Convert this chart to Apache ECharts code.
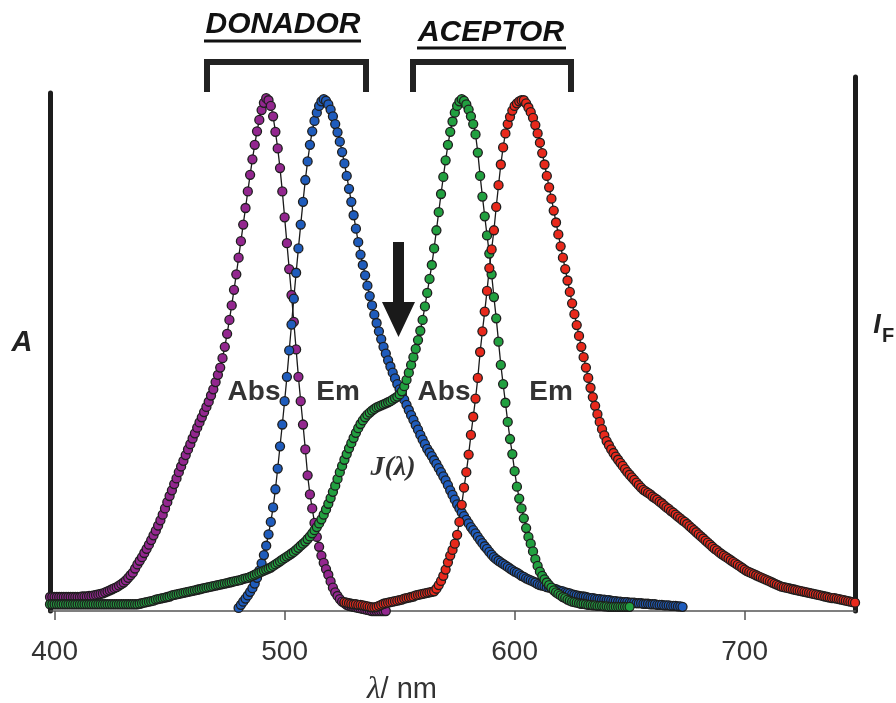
<!DOCTYPE html>
<html>
<head>
<meta charset="utf-8">
<script src="https://cdn.jsdelivr.net/npm/echarts@6.0.0/dist/echarts.min.js"></script>
<style>
  html, body { margin: 0; padding: 0; background: #fff; }
  #chart { width: 896px; height: 703px; }
</style>
</head>
<body>
<div id="chart"></div>
<script>
// 波长刻度
const xTicks = [400, 500, 600, 700]

// 供体吸收 (1 nm 步长, 从 398 nm 开始)
const absDonorStart = 398
const absDonor = [
  .027, .027, .027, .027, .027, .027, .027, .027, .027, .027,
  .027, .027, .027, .027, .028, .028, .028, .029, .029, .030,
  .031, .032, .033, .034, .036, .038, .040, .042, .044, .046,
  .049, .052, .055, .059, .064, .069, .074, .082, .090, .097,
  .104, .112, .120, .128, .137, .146, .155, .165, .175, .186,
  .198, .210, .222, .233, .245, .256, .268, .279, .290, .301,
  .312, .322, .333, .343, .354, .364, .374, .384, .394, .404,
  .416, .428, .442, .456, .470, .488, .510, .535, .562, .590,
  .620, .650, .682, .714, .746, .778, .810, .842, .872, .900,
  .926, .948, .967, .981, .990, .986, .975, .955, .925, .893,
  .855, .810, .760, .710, .660, .610, .558, .505, .452, .405,
  .360, .312, .262, .225, .198, .170, .143, .124, .107, .093,
  .081, .070, .057, .045, .036, .029, .023, .018, .015, .012,
  .010, .009, .008, .007, .006, .005, .004, .003, .002, .001,
  0, 0, 0, 0, 0, 0, 0
]

// 供体发射 (从 480 nm 开始)
const emDonorStart = 480
const emDonor = [
  .006, .012, .018, .024, .030, .037, .044, .053, .064, .078,
  .092, .108, .126, .148, .172, .200, .235, .275, .318, .360,
  .405, .452, .503, .553, .603, .653, .700, .746, .790, .832,
  .868, .900, .926, .946, .962, .975, .984, .988, .985, .978,
  .968, .955, .940, .924, .906, .886, .864, .840, .815, .790,
  .764, .738, .712, .688, .668, .648, .628, .608, .590, .572,
  .556, .540, .525, .510, .497, .484, .472, .460, .449, .438,
  .428, .418, .408, .398, .388, .378, .369, .359, .350, .340,
  .331, .322, .313, .306, .299, .291, .284, .276, .268, .260,
  .252, .243, .233, .224, .215, .206, .198, .190, .183, .176,
  .169, .162, .156, .150, .143, .137, .131, .125, .120, .114,
  .109, .104, .100, .097, .094, .091, .088, .085, .082, .079,
  .076, .074, .071, .068, .066, .063, .061, .059, .057, .055,
  .052, .050, .049, .048, .046, .045, .044, .043, .042, .040,
  .039, .038, .036, .035, .034, .032, .031, .030, .029, .028,
  .028, .027, .026, .025, .025, .024, .023, .023, .022, .022,
  .021, .021, .020, .019, .019, .018, .018, .017, .017, .017,
  .016, .016, .016, .015, .015, .015, .014, .014, .014, .013,
  .013, .013, .012, .012, .012, .011, .011, .011, .010, .010,
  .010, .009, .009, .008
]

// 受体吸收 (从 398 nm 开始)
const absAcceptorStart = 398
const absAcceptor = [
  .013, .013, .013, .013, .013, .013, .013, .013, .013, .013,
  .013, .013, .013, .013, .013, .013, .013, .013, .013, .013,
  .013, .013, .013, .013, .013, .013, .013, .013, .013, .013,
  .013, .013, .013, .013, .013, .013, .013, .013, .013, .014,
  .015, .016, .017, .018, .019, .020, .022, .023, .024, .025,
  .026, .027, .028, .030, .031, .032, .033, .034, .035, .036,
  .037, .038, .039, .040, .041, .042, .043, .044, .045, .046,
  .047, .048, .049, .050, .051, .052, .053, .054, .055, .056,
  .057, .058, .059, .060, .062, .063, .064, .066, .068, .070,
  .072, .074, .076, .078, .080, .082, .084, .087, .090, .093,
  .096, .099, .102, .105, .108, .111, .114, .118, .122, .126,
  .130, .134, .139, .144, .150, .156, .162, .169, .177, .186,
  .196, .207, .218, .230, .242, .255, .268, .280, .292, .303,
  .314, .324, .334, .344, .353, .361, .368, .374, .379, .383,
  .387, .390, .393, .395, .397, .399, .401, .403, .405, .408,
  .411, .414, .418, .424, .434, .446, .460, .475, .490, .506,
  .523, .541, .562, .588, .614, .641, .668, .700, .735, .770,
  .805, .838, .870, .900, .925, .945, .962, .975, .984, .988,
  .985, .978, .968, .955, .940, .920, .885, .840, .800, .762,
  .725, .690, .650, .606, .565, .520, .475, .438, .402, .365,
  .332, .303, .270, .240, .217, .198, .179, .160, .143, .130,
  .115, .100, .087, .076, .068, .061, .055, .050, .045, .040,
  .036, .033, .030, .027, .025, .022, .020, .018, .017, .016,
  .015, .014, .014, .013, .012, .012, .011, .011, .010, .010,
  .010, .009, .009, .008, .008, .008, .008, .008, .008, .008,
  .008, .008, .008
]

// 受体发射 (从 526 nm 开始)
const emAcceptorStart = 526
const emAcceptor = [
  .017, .016, .015, .014, .013, .013, .012, .012, .011, .010,
  .009, .008, .007, .007, .008, .010, .012, .014, .015, .016,
  .017, .018, .019, .020, .021, .022, .024, .025, .026, .027,
  .028, .030, .031, .032, .033, .034, .035, .036, .037, .038,
  .043, .050, .058, .068, .080, .094, .107, .118, .130, .147,
  .172, .205, .238, .268, .302, .340, .375, .410, .450, .500,
  .540, .578, .618, .662, .698, .735, .780, .822, .862, .895,
  .922, .940, .954, .966, .975, .980, .984, .986, .986, .980,
  .972, .963, .952, .938, .922, .904, .884, .862, .840, .818,
  .796, .773, .750, .727, .704, .682, .660, .638, .616, .594,
  .573, .552, .531, .510, .490, .470, .450, .431, .413, .396,
  .380, .365, .351, .339, .328, .320, .312, .305, .298, .292,
  .286, .280, .274, .268, .263, .258, .253, .248, .243, .238,
  .234, .231, .228, .225, .221, .218, .215, .211, .208, .204,
  .200, .197, .193, .190, .186, .182, .179, .175, .172, .168,
  .164, .160, .156, .152, .148, .144, .140, .136, .132, .128,
  .124, .120, .117, .113, .110, .107, .104, .101, .098, .095,
  .092, .089, .086, .083, .080, .077, .075, .073, .071, .069,
  .067, .065, .063, .061, .059, .057, .055, .053, .051, .049,
  .047, .046, .045, .044, .043, .042, .041, .040, .039, .038,
  .037, .036, .035, .034, .033, .032, .031, .030, .029, .028,
  .027, .026, .025, .025, .024, .023, .022, .021, .020, .019,
  .018, .017, .016
]

const toPairs = (start, values) => values.map((v, i) => [start + i, v])

// 点线系列的公共样式
const dotSeries = (name, start, values, color) => ({
  name,
  type: 'line',
  xAxisIndex: 0,
  yAxisIndex: 0,
  data: toPairs(start, values),
  showAllSymbol: true,
  symbol: 'circle',
  symbolSize: 9,
  clip: false,
  silent: true,
  itemStyle: { color, borderColor: '#1e1e1e', borderWidth: 1.3 },
  lineStyle: { color: '#1a1a1a', width: 1.3 }
})

const chart = echarts.init(document.getElementById('chart'), null, { renderer: 'canvas' })

const labelFont = '"Liberation Sans", Arial, sans-serif'
const textEl = (text, x, y, font, fill, z) => ({
  type: 'text',
  x, y, z: z || 1,
  style: { text, font, fill: fill || '#333', align: 'center', verticalAlign: 'middle', textAlign: 'center', textVerticalAlign: 'middle' }
})

const option = {
  animation: false,
  backgroundColor: '#fff',
  grid: [
    { left: 50, right: 40.5, top: 93, bottom: 92 },
    { left: 50, right: 40.5, top: 77, bottom: 92 }
  ],
  xAxis: [
    {
      type: 'value',
      gridIndex: 0,
      min: 398,
      max: 748.2,
      axisLine: { show: true, onZero: false, lineStyle: { color: '#555', width: 1.5 } },
      axisTick: { show: true, customValues: xTicks, length: 9, lineStyle: { color: '#555', width: 1.5 } },
      axisLabel: { customValues: xTicks, fontSize: 28, color: '#333', margin: 27, fontFamily: labelFont },
      splitLine: { show: false }
    },
    { type: 'value', gridIndex: 1, min: 398, max: 748.2, show: false }
  ],
  yAxis: [
    {
      type: 'value',
      gridIndex: 0,
      min: 0,
      max: 1,
      axisLine: { show: true, lineStyle: { color: '#1c1c1c', width: 5 } },
      axisTick: { show: false },
      axisLabel: { show: false },
      splitLine: { show: false }
    },
    {
      type: 'value',
      gridIndex: 1,
      position: 'right',
      min: 0,
      max: 1,
      axisLine: { show: true, lineStyle: { color: '#1c1c1c', width: 5 } },
      axisTick: { show: false },
      axisLabel: { show: false },
      splitLine: { show: false }
    }
  ],
  series: [
    dotSeries('Abs donador', absDonorStart, absDonor, '#93278f'),
    dotSeries('Em donador', emDonorStart, emDonor, '#1f5cbc'),
    dotSeries('Abs aceptor', absAcceptorStart, absAcceptor, '#22a040'),
    dotSeries('Em aceptor', emAcceptorStart, emAcceptor, '#e8291c')
  ],
  graphic: [
    // 标题与括号
    textEl('DONADOR', 283, 25, 'italic bold 30px ' + labelFont, '#111', 10),
    { type: 'line', z: 10, shape: { x1: 204, y1: 41, x2: 361, y2: 41 }, style: { stroke: '#111', lineWidth: 3 } },
    textEl('ACEPTOR', 491, 33, 'italic bold 30px ' + labelFont, '#111', 10),
    { type: 'line', z: 10, shape: { x1: 417, y1: 48, x2: 566, y2: 48 }, style: { stroke: '#111', lineWidth: 3 } },
    { type: 'polyline', z: 10, shape: { points: [[207, 92], [207, 62], [366, 62], [366, 92]] }, style: { stroke: '#222', lineWidth: 6, fill: null, lineJoin: 'miter' } },
    { type: 'polyline', z: 10, shape: { points: [[413, 92], [413, 62], [571, 62], [571, 92]] }, style: { stroke: '#222', lineWidth: 6, fill: null, lineJoin: 'miter' } },
    // 箭头
    { type: 'polygon', z: 10, shape: { points: [[393, 242], [404, 242], [404, 302], [415, 302], [398.5, 337], [382, 302], [393, 302]] }, style: { fill: '#1a1a1a' } },
    // 曲线标签
    textEl('Abs', 254, 392, 'bold 28px ' + labelFont),
    textEl('Em', 338, 392, 'bold 28px ' + labelFont),
    textEl('Abs', 444, 392, 'bold 28px ' + labelFont),
    textEl('Em', 551, 392, 'bold 28px ' + labelFont),
    textEl('J(λ)', 393, 468, 'italic bold 28px "Liberation Serif", serif', '#333'),
    // 轴标题
    textEl('A', 22, 343, 'italic bold 29px ' + labelFont, '#222'),
    textEl('I', 877, 326, 'italic bold 27px ' + labelFont, '#222'),
    textEl('F', 888, 336, 'bold 20px ' + labelFont, '#222'),
    {
      type: 'text', x: 402, y: 690, z: 10,
      style: {
        text: '{l|λ}{s|/ nm}',
        align: 'center', verticalAlign: 'middle', textAlign: 'center', textVerticalAlign: 'middle',
        rich: {
          l: { fontSize: 31, fontStyle: 'italic', fontFamily: '"Liberation Serif", serif', fill: '#333', color: '#333' },
          s: { fontSize: 29, fontFamily: labelFont, fill: '#333', color: '#333' }
        }
      }
    }
  ]
}

chart.setOption(option)
</script>
</body>
</html>
